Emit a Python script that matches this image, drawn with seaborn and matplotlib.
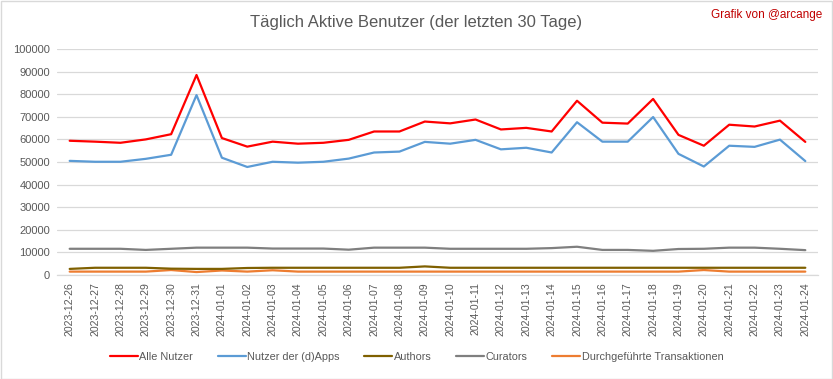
import matplotlib
matplotlib.use("Agg")
import matplotlib.pyplot as plt
import seaborn as sns
import pandas as pd
from matplotlib.patches import Rectangle
from matplotlib.lines import Line2D

dates = ["2023-12-26", "2023-12-27", "2023-12-28", "2023-12-29", "2023-12-30", "2023-12-31",
         "2024-01-01", "2024-01-02", "2024-01-03", "2024-01-04", "2024-01-05", "2024-01-06",
         "2024-01-07", "2024-01-08", "2024-01-09", "2024-01-10", "2024-01-11", "2024-01-12",
         "2024-01-13", "2024-01-14", "2024-01-15", "2024-01-16", "2024-01-17", "2024-01-18",
         "2024-01-19", "2024-01-20", "2024-01-21", "2024-01-22", "2024-01-23", "2024-01-24"]

alle_nutzer = [59400, 59000, 58500, 60000, 62300, 88500, 60600, 56800, 59000, 58100, 58500, 59800,
               63500, 63500, 67900, 67100, 68800, 64400, 65100, 63500, 77100, 67400, 67000, 77900,
               62000, 57200, 66500, 65700, 68300, 58900]
dapps = [50500, 50100, 50100, 51400, 53200, 79600, 51900, 47800, 50100, 49700, 50100, 51500,
         54200, 54600, 58900, 58100, 59800, 55600, 56300, 54200, 67600, 59000, 59000, 69900,
         53600, 48000, 57200, 56700, 59900, 50400]
authors = [2700, 3200, 3200, 3200, 2800, 2700, 2700, 3100, 3200, 3200, 3200, 3200,
           3200, 3200, 3800, 3200, 3200, 3200, 3200, 3200, 3200, 3200, 3200, 3200,
           3200, 3200, 3200, 3200, 3200, 3200]
curators = [11600, 11600, 11600, 11100, 11600, 12100, 12100, 12100, 11700, 11700, 11700, 11200,
            12100, 12100, 12100, 11600, 11600, 11600, 11600, 11900, 12500, 11100, 11100, 10700,
            11500, 11600, 12100, 12100, 11600, 11000]
transaktionen = [1500, 1500, 1500, 1500, 2200, 1300, 2000, 1500, 2100, 1500, 1500, 1500,
                 1500, 1500, 1500, 1500, 1500, 1500, 1500, 1500, 1500, 1500, 1500, 1500,
                 1500, 2200, 1500, 1500, 1500, 1500]

series_names = ["Alle Nutzer", "Nutzer der (d)Apps", "Authors", "Curators", "Durchgeführte Transaktionen"]
series_values = [alle_nutzer, dapps, authors, curators, transaktionen]
colors = ["#FF0000", "#5B9BD5", "#7F6000", "#7F7F7F", "#ED7D31"]

rows = []
for name, vals in zip(series_names, series_values):
    for i, (d, v) in enumerate(zip(dates, vals)):
        rows.append({"idx": i, "date": d, "series": name, "value": v})
df = pd.DataFrame(rows)

sns.set_theme(style="white")
plt.rcParams["font.family"] = ["Liberation Sans", "DejaVu Sans"]

fig = plt.figure(figsize=(8.33, 3.79), dpi=100)
ax = fig.add_axes([57/833, 1-275/379, (818-57)/833, (275-49)/379])

# draw in reverse order so red is on top
for name in reversed(series_names):
    sub = df[df["series"] == name]
    sns.lineplot(data=sub, x="idx", y="value", ax=ax, color=colors[series_names.index(name)],
                 linewidth=1.6, legend=False)

ax.set_xlim(-0.5, len(dates) - 0.5)
ax.set_ylim(0, 100000)
ax.set_yticks(range(0, 100001, 10000))
ax.set_yticklabels([str(v) for v in range(0, 100001, 10000)], fontsize=8, color="#595959")
ax.set_xticks(range(len(dates)))
ax.set_xticklabels(dates, rotation=90, fontsize=7.6, color="#595959")
ax.set_xlabel("")
ax.set_ylabel("")
ax.grid(axis="y", color="#D9D9D9", linewidth=0.9)
ax.set_axisbelow(True)
for s in ["top", "right", "left"]:
    ax.spines[s].set_visible(False)
ax.spines["bottom"].set_color("#D9D9D9")
ax.spines["bottom"].set_linewidth(0.9)
ax.tick_params(axis="both", length=0, pad=5)

handles = [Line2D([0], [0], color=c, linewidth=1.6) for c in colors]
fig.legend(handles, series_names, loc="center", bbox_to_anchor=(0.5, 1-357/379), ncol=5,
           frameon=False, fontsize=7.8, handlelength=2.6, handletextpad=0.1, columnspacing=2.3,
           labelcolor="#595959")

fig.text(0.5, 1-22/379, "Täglich Aktive Benutzer (der letzten 30 Tage)", ha="center", va="center",
         fontsize=12, color="#595959")
fig.text(822/833, 1-15/379, "Grafik von @arcange", ha="right", va="center", fontsize=8.5, color="#C00000")

fig.patches.append(Rectangle((0.5/833, 0.5/379), 1-1.5/833, 1-1.5/379, transform=fig.transFigure,
                             fill=False, edgecolor="#D9D9D9", linewidth=1))

fig.savefig("out.png", dpi=100)
